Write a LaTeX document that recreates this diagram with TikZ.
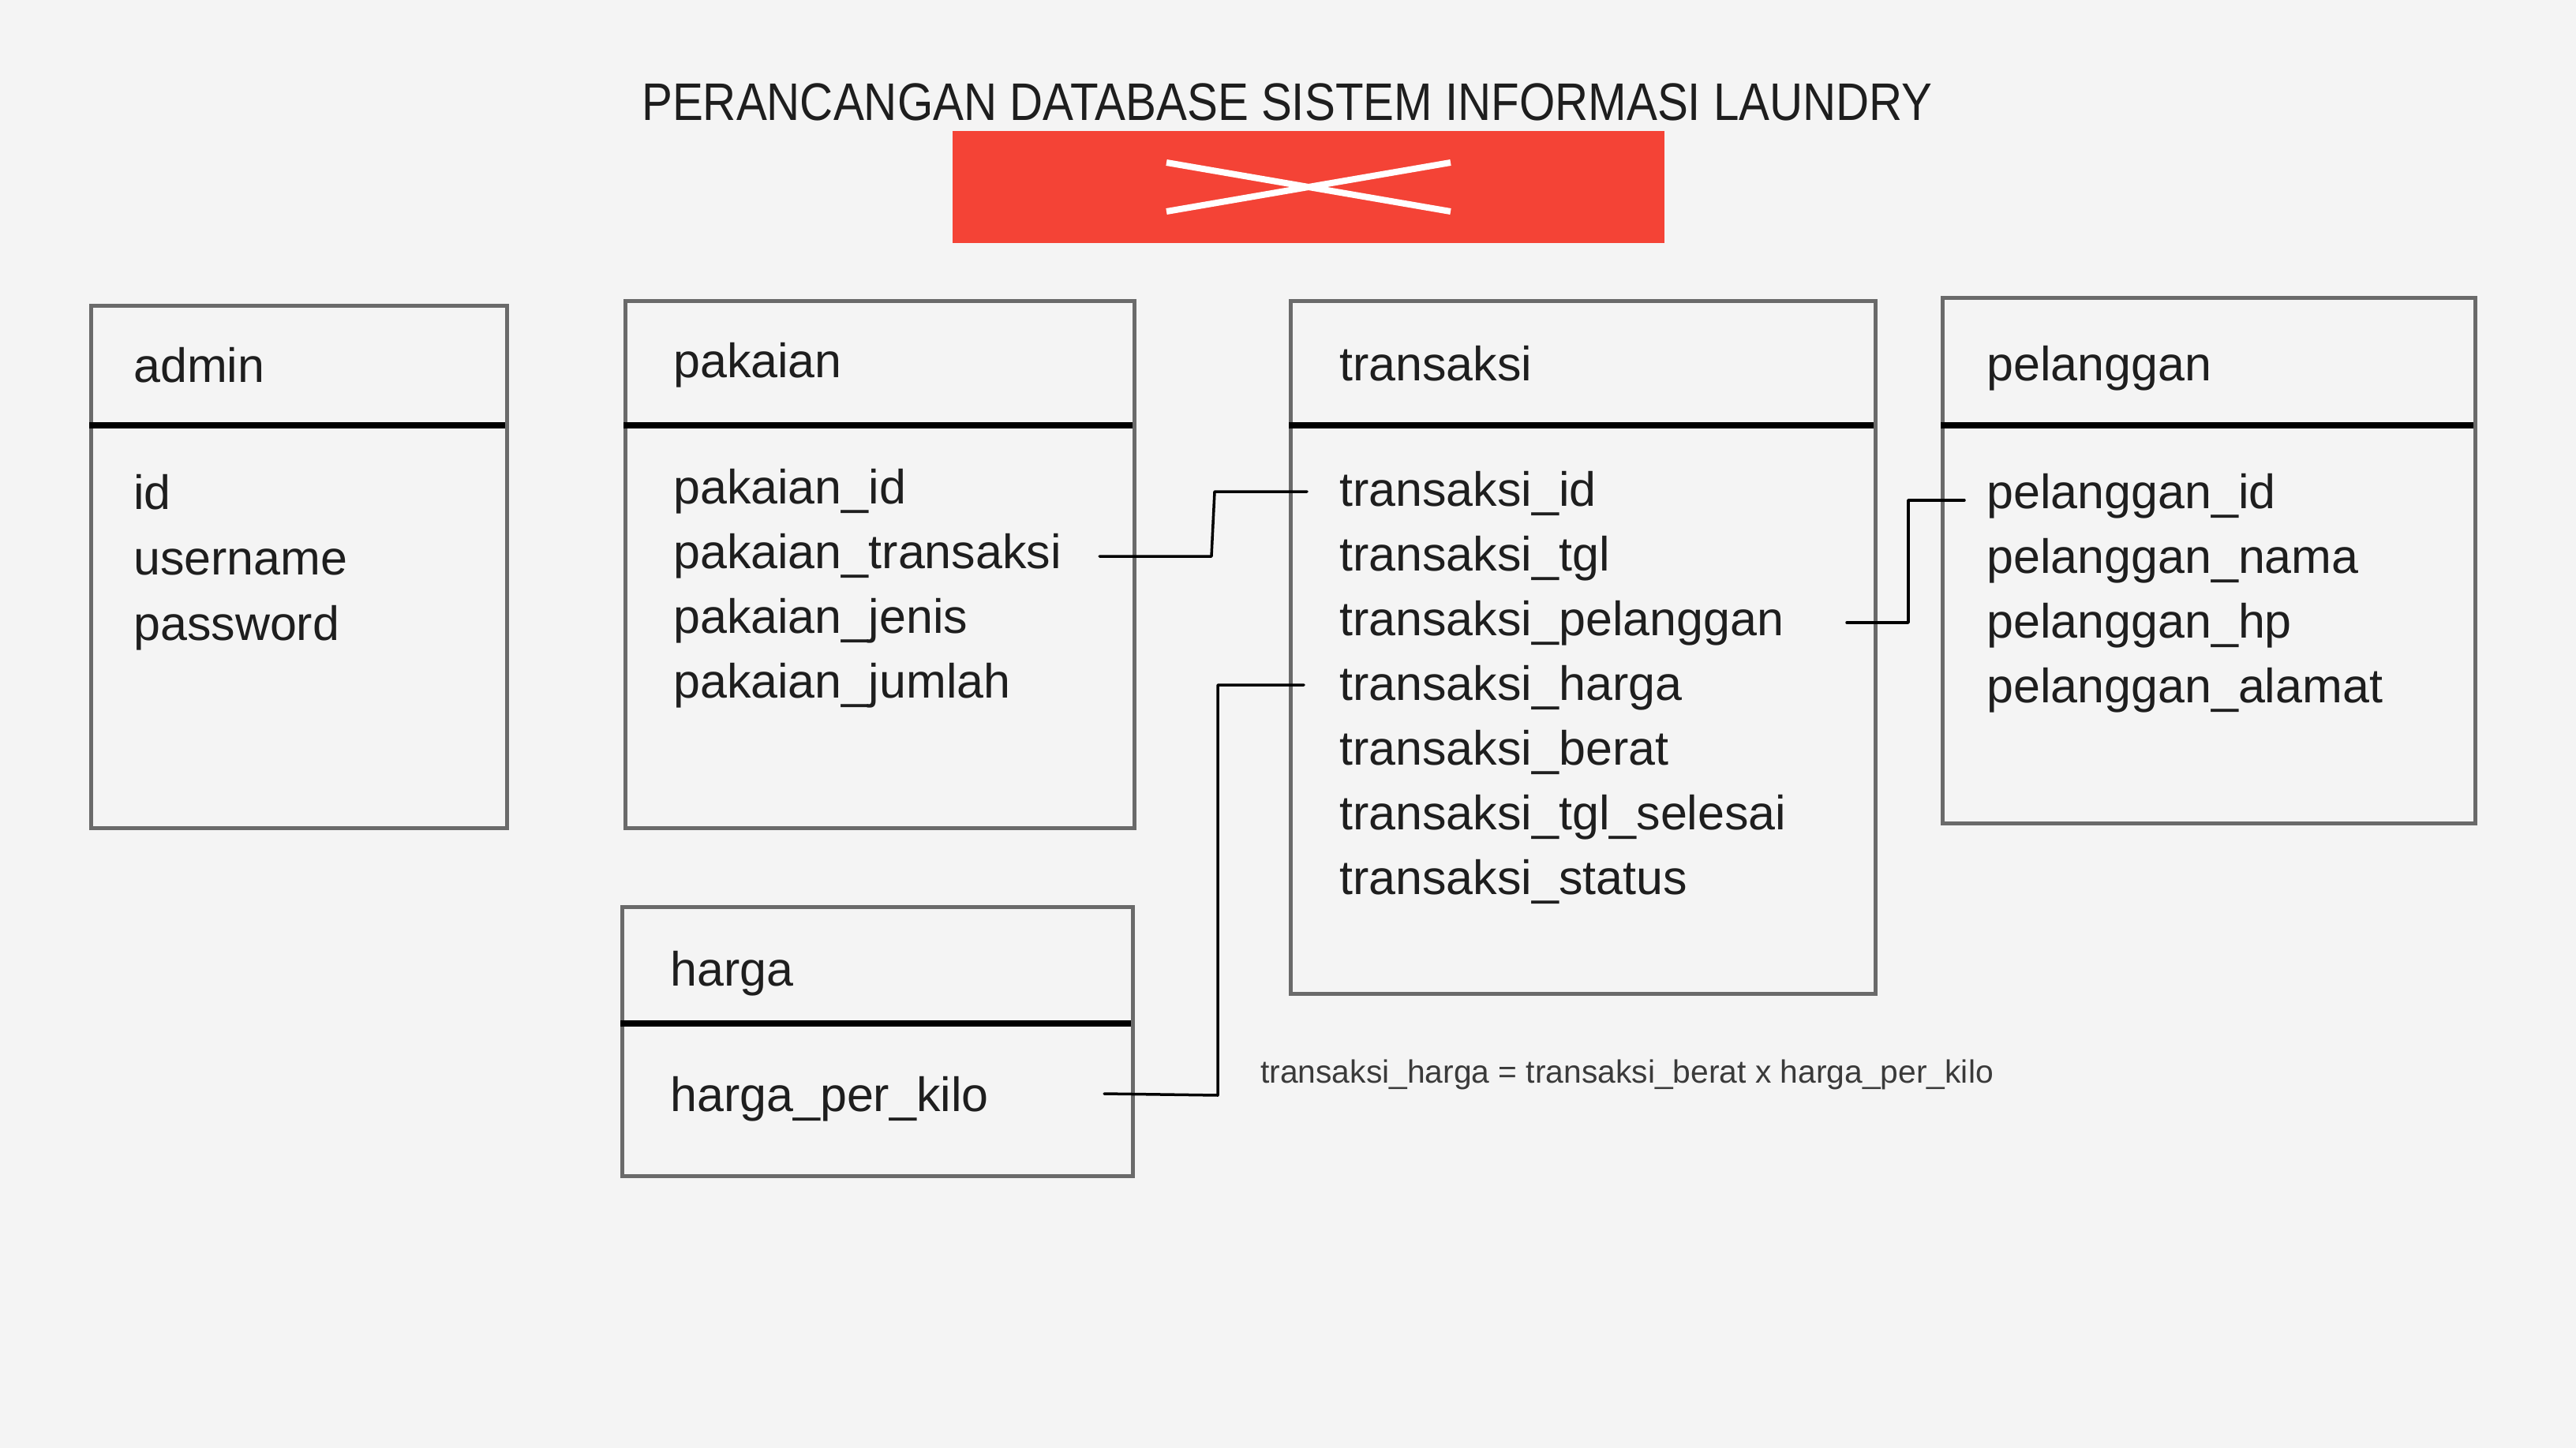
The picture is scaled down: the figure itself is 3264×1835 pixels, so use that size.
\documentclass[tikz,border=0pt]{standalone}
\usepackage{fontspec}
\setmainfont{Liberation Sans}
\usetikzlibrary{calc}
\definecolor{bg}{HTML}{F4F4F4}
\definecolor{redbox}{HTML}{F44336}
\definecolor{ink}{HTML}{1E1E1E}
\definecolor{frame}{HTML}{6A6A6A}
\definecolor{note}{HTML}{3A3A3A}
\begin{document}
\begin{tikzpicture}[x=1pt,y=-1pt,
  tblbox/.style={draw=frame,line width=4.5pt,rectangle,inner sep=0pt,anchor=north west},
  divider/.style={line width=8pt,draw=black},
  fld/.style={anchor=mid west,inner sep=0pt,text=ink,font=\fontsize{61}{70}\selectfont},
  link/.style={draw=black,line width=3.5pt,line cap=round,line join=round}]
\fill[bg] (0,0) rectangle (3264,1835);
\useasboundingbox (0,0) rectangle (3264,1835);

% title
\node[anchor=base,inner sep=0pt,text=ink,font=\fontsize{67}{80}\selectfont] (title) at (1631,153)
  {\scalebox{0.87}[1]{PERANCANGAN DATABASE SISTEM INFORMASI LAUNDRY}};
\node[fill=redbox,draw=none,anchor=north west,inner sep=0pt,minimum width=902pt,minimum height=142pt] (banner) at (1207,166) {};
\draw[white,line width=8pt] (1478,206) -- (1838,268);
\draw[white,line width=8pt] (1478,268) -- (1838,206);

% admin
\node[tblbox,minimum width=527pt,minimum height=662pt] (admin) at (113,385) {};
\draw[divider] (113,539) -- (640,539);
\node[fld] (adminh) at (169,482) {admin};
\node[fld] (a1) at (169,643) {id};
\node[fld] (a2) at (169,726) {username};
\node[fld] (a3) at (169,809) {password};

% pakaian
\node[tblbox,minimum width=645pt,minimum height=668pt] (pakaian) at (790,379) {};
\draw[divider] (790,539) -- (1435,539);
\node[fld] (pakh) at (853,476) {pakaian};
\node[fld] (p1) at (853,636) {pakaian\_id};
\node[fld] (p2) at (853,718) {pakaian\_transaksi};
\node[fld] (p3) at (853,800) {pakaian\_jenis};
\node[fld] (p4) at (853,882) {pakaian\_jumlah};

% transaksi
\node[tblbox,minimum width=741pt,minimum height=878pt] (transaksi) at (1633,379) {};
\draw[divider] (1633,539) -- (2374,539);
\node[fld] (trh) at (1697,480) {transaksi};
\node[fld] (t1) at (1697,639) {transaksi\_id};
\node[fld] (t2) at (1697,721) {transaksi\_tgl};
\node[fld] (t3) at (1697,803) {transaksi\_pelanggan};
\node[fld] (t4) at (1697,885) {transaksi\_harga};
\node[fld] (t5) at (1697,967) {transaksi\_berat};
\node[fld] (t6) at (1697,1049) {transaksi\_tgl\_selesai};
\node[fld] (t7) at (1697,1131) {transaksi\_status};

% pelanggan
\node[tblbox,minimum width=675pt,minimum height=666pt] (pelanggan) at (2459,375) {};
\draw[divider] (2459,539) -- (3134,539);
\node[fld] (pelh) at (2517,480) {pelanggan};
\node[fld] (c1) at (2517,642) {pelanggan\_id};
\node[fld] (c2) at (2517,724) {pelanggan\_nama};
\node[fld] (c3) at (2517,806) {pelanggan\_hp};
\node[fld] (c4) at (2517,888) {pelanggan\_alamat};

% harga
\node[tblbox,minimum width=647pt,minimum height=341pt] (harga) at (786,1147) {};
\draw[divider] (786,1297) -- (1433,1297);
\node[fld] (hh) at (849,1247) {harga};
\node[fld] (h1) at (849,1406) {harga\_per\_kilo};

% connectors
\coordinate (l1a) at (1393,705);
\coordinate (l1b) at (1656,623);
\draw[link] (l1a) -- (1535,705) -- (1539,623) -- (l1b);
\coordinate (l2a) at (2340,789);
\coordinate (l2b) at (2489,634);
\draw[link] (l2a) -- (2418,789) -- (2418,634) -- (l2b);
\coordinate (l3a) at (1399,1386);
\coordinate (l3b) at (1652,868);
\draw[link] (l3a) -- (1543,1388) -- (1543,868) -- (l3b);

% note
\node[anchor=base west,inner sep=0pt,text=note,font=\fontsize{40.8}{48}\selectfont] (formula) at (1597,1372)
  {transaksi\_harga = transaksi\_berat x harga\_per\_kilo};
\end{tikzpicture}
\end{document}
